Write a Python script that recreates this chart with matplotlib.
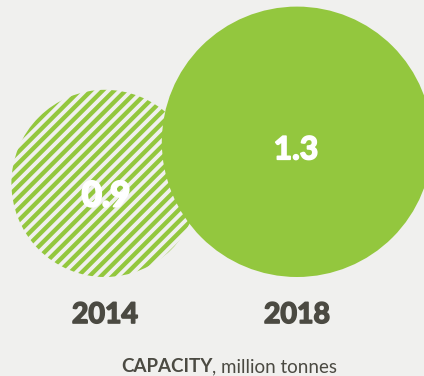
import numpy as np
import matplotlib
matplotlib.use("Agg")
import matplotlib.pyplot as plt
from matplotlib.patches import Circle
import matplotlib.patheffects as pe

plt.rcParams["font.family"] = ["Lato", "DejaVu Sans"]

years = ["2014", "2018"]
capacity = [0.9, 1.3]
hatched = [True, False]

GREEN = "#93c73e"
BG = "#f0f0ee"
TEXT = "#4b4a42"

W, H = 424, 376
fig = plt.figure(figsize=(W / 100, H / 100), dpi=100, facecolor=BG)
ax = fig.add_axes([0, 0, 1, 1])
ax.set_xlim(0, W)
ax.set_ylim(H, 0)
ax.set_aspect("equal")
ax.axis("off")

# circles sit on a common baseline, radius proportional to capacity
px_per_unit = 104
baseline = 277
centers_x = [105, 297]


def heavy(color, w=1.0):
    return [pe.withStroke(linewidth=w, foreground=color)]


for i, (yr, val, striped) in enumerate(zip(years, capacity, hatched)):
    r = val * px_per_unit
    cx, cy = centers_x[i], baseline - r
    if striped:
        clip = Circle((cx, cy), r, facecolor="none", edgecolor="none")
        ax.add_patch(clip)
        period = 11.5
        for k in np.arange(-2 * r, 2 * r + period, period):
            # "/" stripes clipped to the circle
            ln, = ax.plot([cx - 2 * r + k, cx + 2 * r + k],
                          [cy + 2 * r, cy - 2 * r],
                          color=GREEN, lw=3.1, solid_capstyle="butt", zorder=1)
            ln.set_clip_path(clip)
        ax.text(cx + 1, cy + 13, f"{val:.1f}", color="white", fontsize=25,
                fontweight="bold", ha="center", va="center", zorder=5,
                path_effects=heavy("white", 1.6))
    else:
        ax.add_patch(Circle((cx, cy), r, facecolor=GREEN, edgecolor="none", zorder=3))
        ax.text(cx - 1, cy + 8, f"{val:.1f}", color="white", fontsize=23,
                fontweight="bold", ha="center", va="center", zorder=5,
                path_effects=heavy("white", 1.2))
    ax.text(cx, 315, yr, color=TEXT, fontsize=20.5, fontweight="bold",
            ha="center", va="center", path_effects=heavy(TEXT, 1.2))

# caption: bold unit name followed by the lighter remainder, centred as one line
t1 = ax.text(0, 367, "CAPACITY", color=TEXT, fontsize=13.5, fontweight="bold",
             ha="left", va="center")
t2 = ax.text(0, 367, ", million tonnes", color=TEXT, fontsize=13.5,
             fontweight="normal", ha="left", va="center")
fig.canvas.draw()
rend = fig.canvas.get_renderer()
w1 = t1.get_window_extent(rend).width
w2 = t2.get_window_extent(rend).width
start = 229 - (w1 + w2) / 2
t1.set_x(start)
t2.set_x(start + w1)

fig.savefig("out.png", dpi=100, facecolor=BG)
